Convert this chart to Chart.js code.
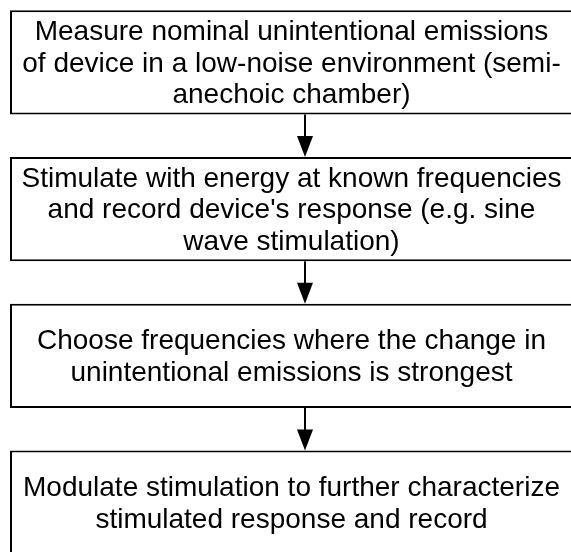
<!DOCTYPE html>
<html><head><meta charset="utf-8">
<script src="https://cdn.jsdelivr.net/npm/chart.js@4"></script>
<style>
html,body{margin:0;padding:0;background:#fff;overflow:hidden;width:571px;height:552px;position:relative}
#wrap{position:absolute;left:0;top:-11px;width:574px;height:587px}
</style>
</head><body><div id="wrap"><canvas id="c"></canvas></div>
<script>
// Flowchart steps (categories), in order
const steps = ["Measure", "Stimulate", "Choose", "Modulate"];
// Text lines shown in each step box
const stepText = [
  ["Measure nominal unintentional emissions", "of device in a low-noise environment (semi-", "anechoic chamber)"],
  ["Stimulate with energy at known frequencies", "and record device's response (e.g. sine", "wave stimulation)"],
  ["Choose frequencies where the change in", "unintentional emissions is strongest"],
  ["Modulate stimulation to further characterize", "stimulated response and record"]
];
// Each step box spans the whole process width (start, end)
const boxStart = [0, 0, 0, 0];
const boxEnd = [1, 1, 1, 1];
// Where along the process width the connecting arrows run
const arrowAt = 0.524;

const FONT = '28px "Liberation Sans", Arial, Helvetica, sans-serif';
const LINE_H = 31.5;

const flowPlugin = {
  id: 'flow',
  afterDatasetsDraw(chart) {
    const ctx = chart.ctx;
    const els = chart.getDatasetMeta(0).data;
    const xs = chart.scales.x;
    ctx.save();
    ctx.strokeStyle = '#000';
    ctx.fillStyle = '#000';
    ctx.lineWidth = 2;
    const cx = Math.round(xs.getPixelForValue(arrowAt));
    for (let i = 0; i < els.length - 1; i++) {
      const a = els[i], b = els[i + 1];
      const y0 = a.y + a.height / 2;
      const y1 = b.y - b.height / 2;
      const headH = 21, headW = 8;
      ctx.beginPath();
      ctx.moveTo(cx, y0);
      ctx.lineTo(cx, y1 - headH + 1);
      ctx.stroke();
      ctx.beginPath();
      ctx.moveTo(cx - headW, y1 - headH);
      ctx.lineTo(cx + headW, y1 - headH);
      ctx.lineTo(cx, y1);
      ctx.closePath();
      ctx.fill();
    }
    ctx.font = FONT;
    ctx.textAlign = 'center';
    ctx.textBaseline = 'middle';
    els.forEach((el, i) => {
      const tx = (el.x + el.base) / 2;
      const lines = stepText[i];
      const start = el.y + 1.5 - (lines.length - 1) * LINE_H / 2;
      lines.forEach((ln, j) => ctx.fillText(ln, tx, start + j * LINE_H));
    });
    ctx.restore();
  }
};

new Chart(document.getElementById('c'), {
  type: 'bar',
  data: {
    labels: steps,
    datasets: [{
      data: steps.map((s, i) => [boxStart[i], boxEnd[i]]),
      backgroundColor: '#fff',
      borderColor: '#000',
      borderWidth: 2,
      borderSkipped: false,
      barPercentage: 0.71,
      categoryPercentage: 1
    }]
  },
  options: {
    indexAxis: 'y',
    responsive: true,
    maintainAspectRatio: false,
    animation: false,
    events: [],
    layout: { padding: { left: 10, right: 1, top: 0, bottom: 0 } },
    plugins: { legend: { display: false }, tooltip: { enabled: false } },
    scales: {
      x: { type: 'linear', min: 0, max: 1, display: false },
      y: { type: 'category', display: false, offset: true }
    }
  },
  plugins: [flowPlugin]
});
</script>
</body></html>
